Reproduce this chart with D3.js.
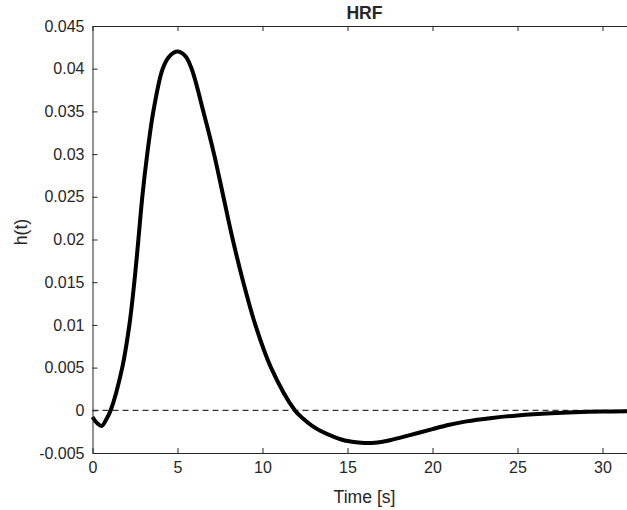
<!DOCTYPE html>
<html>
<head>
<meta charset="utf-8">
<script src="https://cdn.jsdelivr.net/npm/d3@7"></script>
<style>
  body { margin: 0; background: #fff; }
  svg { display: block; }
  text { font-family: "Liberation Sans", Arial, sans-serif; fill: #262626; }
</style>
</head>
<body>
<svg id="chart"></svg>
<script>
// values
const timeS = [0, 0.27, 0.54, 0.8, 1.07, 1.75, 2.17, 2.46, 2.70, 2.93, 3.22, 3.58, 4.13, 4.55, 4.99,
  5.45, 5.83, 6.52, 7.15, 7.70, 8.25, 8.87, 9.58, 10.5, 11.9, 12.4, 12.9, 13.4, 14.2, 15.0, 15.8,
  16.6, 17.5, 18.5, 20, 21, 22, 23.5, 25, 27, 30, 32];
const hrf = [-0.00078, -0.0015, -0.00183, -0.0011, 0, 0.005, 0.01, 0.015, 0.02, 0.025, 0.03, 0.035,
  0.04, 0.0415, 0.042, 0.0415, 0.04, 0.035, 0.03, 0.025, 0.02, 0.015, 0.01, 0.005, 0,
  -0.001, -0.0018, -0.0024, -0.0031, -0.0036, -0.0038, -0.0038, -0.0035, -0.003, -0.0022,
  -0.0017, -0.0013, -0.0009, -0.0006, -0.00035, -0.00015, -0.0001];
const xTicks = [0, 5, 10, 15, 20, 25, 30];
const yTicks = [-0.005, 0, 0.005, 0.01, 0.015, 0.02, 0.025, 0.03, 0.035, 0.04, 0.045];
const yTickLabels = ['-0.005', '0', '0.005', '0.01', '0.015', '0.02', '0.025', '0.03', '0.035', '0.04', '0.045'];

const W = 627, H = 510;
const margin = { top: 26, left: 92.5 };
const width = 544, height = 427;

const svg = d3.select('#chart').attr('width', W).attr('height', H);
const g = svg.append('g').attr('transform', `translate(${margin.left},${margin.top})`);

const x = d3.scaleLinear().domain([0, 32]).range([0, width]);
const y = d3.scaleLinear().domain([-0.005, 0.045]).range([height, 0]);

// zero line
g.append('line')
  .attr('x1', x(0)).attr('x2', x(32))
  .attr('y1', y(0)).attr('y2', y(0))
  .attr('stroke', '#000').attr('stroke-width', 1)
  .attr('stroke-dasharray', '6,4');

// curve
const data = timeS.map((t, i) => ({ t: t, h: hrf[i] }));
g.append('path')
  .datum(data)
  .attr('fill', 'none')
  .attr('stroke', '#000')
  .attr('stroke-width', 4)
  .attr('stroke-linejoin', 'round')
  .attr('d', d3.line().x(d => x(d.t)).y(d => y(d.h)).curve(d3.curveCatmullRom.alpha(0.5)));

// axes, ticks pointing inward
const xAxis = g.append('g')
  .attr('transform', `translate(0,${height})`)
  .call(d3.axisBottom(x).tickValues(xTicks).tickSizeInner(-5).tickSizeOuter(0).tickPadding(9));
const yAxis = g.append('g')
  .call(d3.axisLeft(y).tickValues(yTicks).tickFormat((d, i) => yTickLabels[i])
    .tickSizeInner(-5).tickSizeOuter(0).tickPadding(8));
const topAxis = g.append('g')
  .call(d3.axisTop(x).tickValues(xTicks).tickSizeInner(-5).tickSizeOuter(0).tickFormat(''));

[xAxis, yAxis, topAxis].forEach(a => {
  a.selectAll('path, line').attr('stroke', '#262626');
  a.selectAll('text').attr('font-family', '"Liberation Sans", Arial, sans-serif')
    .attr('font-size', 16).attr('fill', '#262626');
});

// labels
svg.append('text')
  .attr('x', margin.left + width / 2).attr('y', 19)
  .attr('text-anchor', 'middle')
  .attr('font-size', 17.6).attr('font-weight', 'bold')
  .attr('fill', '#000')
  .text('HRF');

svg.append('text')
  .attr('x', margin.left + width / 2).attr('y', 503)
  .attr('text-anchor', 'middle')
  .attr('font-size', 17.6)
  .text('Time [s]');

svg.append('text')
  .attr('transform', 'translate(27,232) rotate(-90)')
  .attr('text-anchor', 'middle')
  .attr('font-size', 17.6)
  .text('h(t)');
</script>
</body>
</html>
